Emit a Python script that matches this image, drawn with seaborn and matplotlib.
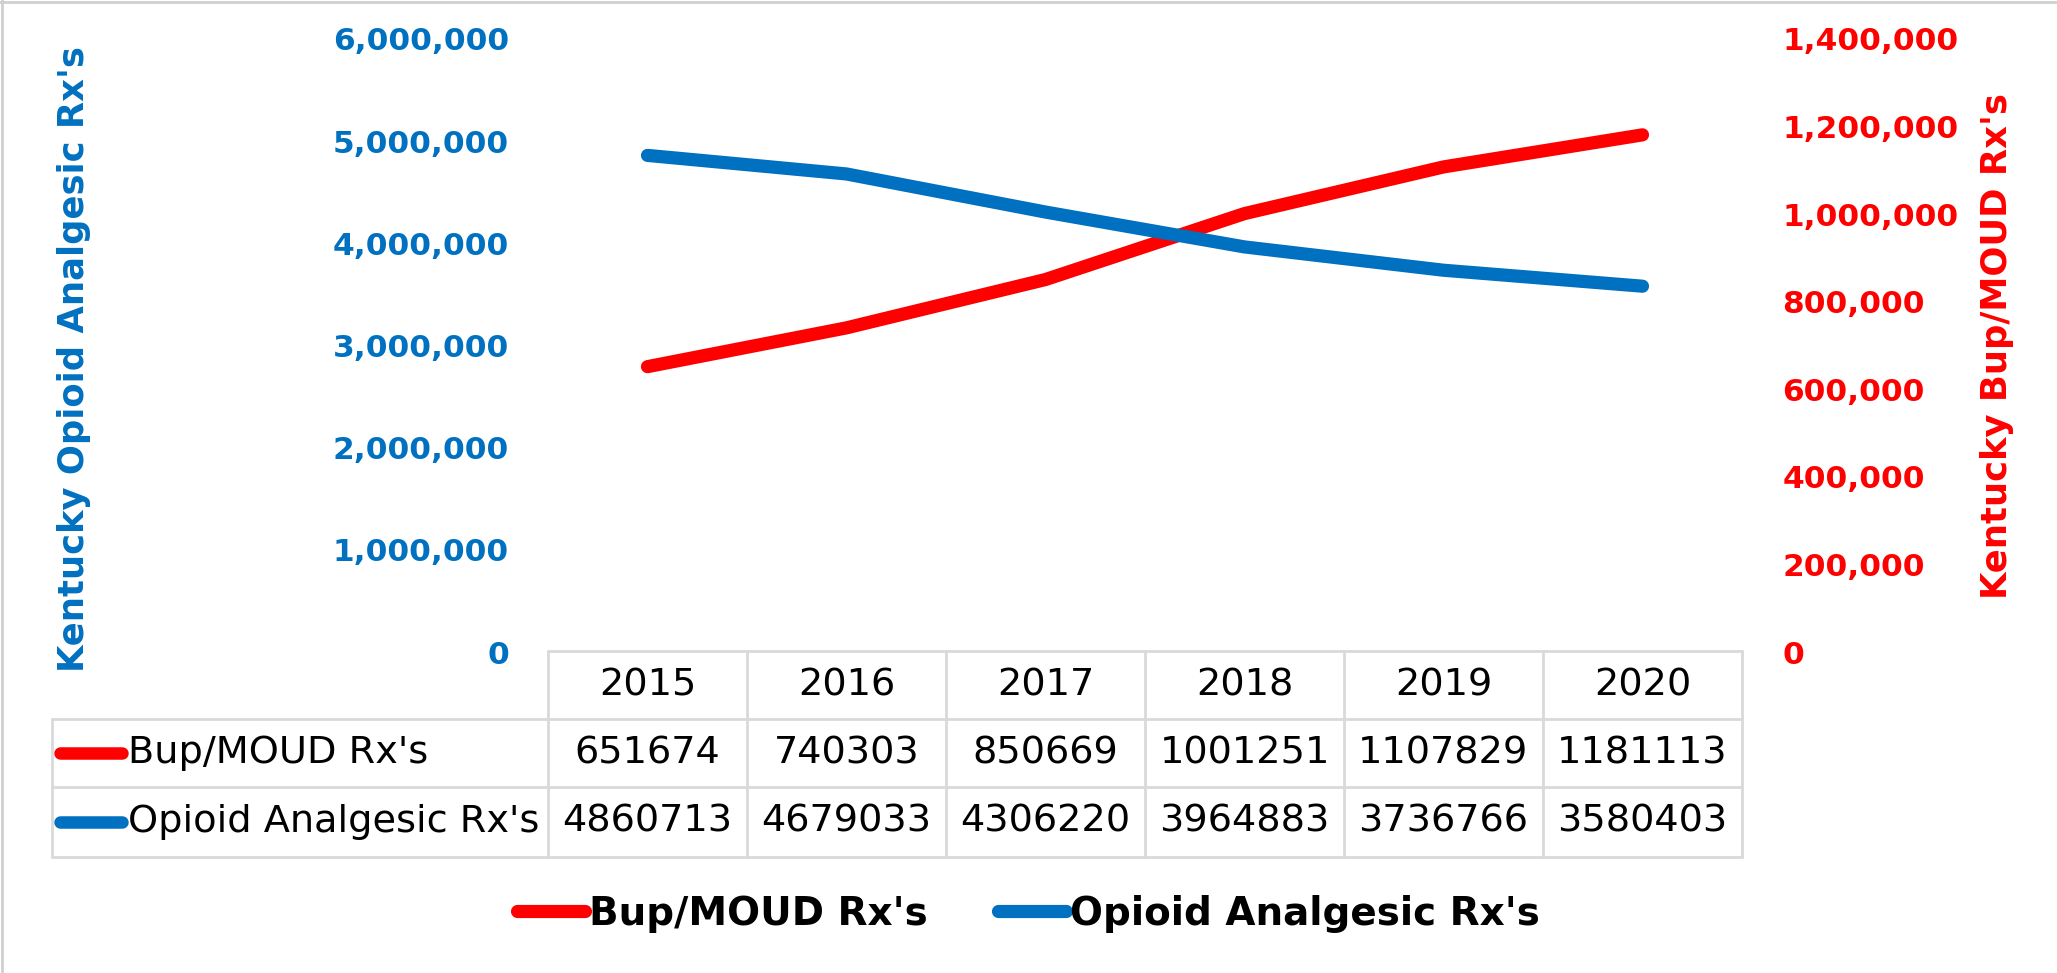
import numpy as np
import pandas as pd
import matplotlib
matplotlib.use("Agg")
import matplotlib.pyplot as plt
import matplotlib.transforms as mtransforms
from matplotlib.lines import Line2D
import seaborn as sns

# ---------------- data ----------------
years = ["2015", "2016", "2017", "2018", "2019", "2020"]
bup = [651674, 740303, 850669, 1001251, 1107829, 1181113]
opioid = [4860713, 4679033, 4306220, 3964883, 3736766, 3580403]
bup_label = "Bup/MOUD Rx's"
opioid_label = "Opioid Analgesic Rx's"
left_ylabel = "Kentucky Opioid Analgesic Rx's"
right_ylabel = "Kentucky Bup/MOUD Rx's"
left_ticks = [0, 1000000, 2000000, 3000000, 4000000, 5000000, 6000000]
right_ticks = [0, 200000, 400000, 600000, 800000, 1000000, 1200000, 1400000]

BLUE = "#0070C0"
RED = "#FF0000"
GRID = "#D9D9D9"

sns.set_style("white")
plt.rcParams["font.family"] = ["DejaVu Sans"]
plt.rcParams["text.color"] = "black"

W, H = 2057, 973
fig = plt.figure(figsize=(W / 100, H / 100), dpi=100)
fig.patch.set_facecolor("white")


def fx(px):
    return px / W


def fy(py):
    return 1 - py / H


ax = fig.add_axes([fx(548), fy(652), fx(1742) - fx(548), fy(39) - fy(652)])
ax2 = ax.twinx()

df = pd.DataFrame({"x": np.arange(len(years)), "bup": bup, "opioid": opioid})
sns.lineplot(data=df, x="x", y="bup", ax=ax2, color=RED, lw=9.5,
             solid_capstyle="round", solid_joinstyle="round")
sns.lineplot(data=df, x="x", y="opioid", ax=ax, color=BLUE, lw=9.5,
             solid_capstyle="round", solid_joinstyle="round")
ax.set_zorder(ax2.get_zorder() + 1)
ax.patch.set_visible(False)

for a in (ax, ax2):
    a.set_xlim(-0.5, len(years) - 0.5)
    a.set_xticks([])
    a.set_xlabel("")
    a.set_ylabel("")
    for s in a.spines.values():
        s.set_visible(False)

ax.set_ylim(left_ticks[0], left_ticks[-1])
ax2.set_ylim(right_ticks[0], right_ticks[-1])
ax.set_yticks(left_ticks, labels=[f"{v:,}" for v in left_ticks],
              fontweight="bold", color=BLUE, fontsize=22.5)
ax2.set_yticks(right_ticks, labels=[f"{v:,}" for v in right_ticks],
               fontweight="bold", color=RED, fontsize=22.5)
ax.tick_params(axis="y", length=0, pad=28)
ax2.tick_params(axis="y", length=0, pad=29)

# axis titles
fig.text(fx(74), fy(359), left_ylabel, rotation=90, ha="center", va="center",
         color=BLUE, fontsize=25.5, fontweight="bold")
fig.text(fx(1997), fy(346), right_ylabel, rotation=90, ha="center", va="center",
         color=RED, fontsize=25.5, fontweight="bold")

# ---------------- data table ----------------
blend = mtransforms.blended_transform_factory(ax.transData, fig.transFigure)
rows_px = [651, 719, 787, 857]
x_left = fx(52)
x_ax_left = ax.get_position().x0
x_ax_right = ax.get_position().x1
n = len(years)

fig.add_artist(Line2D([x_ax_left, x_ax_right], [fy(rows_px[0])] * 2,
                      color=GRID, lw=2, transform=fig.transFigure))
for r in rows_px[1:]:
    fig.add_artist(Line2D([x_left, x_ax_right], [fy(r)] * 2,
                          color=GRID, lw=2, transform=fig.transFigure))
for i in range(n + 1):
    fig.add_artist(Line2D([i - 0.5, i - 0.5], [fy(rows_px[0]), fy(rows_px[-1])],
                          color=GRID, lw=2, transform=blend))
fig.add_artist(Line2D([x_left, x_left], [fy(rows_px[1]), fy(rows_px[-1])],
                      color=GRID, lw=2, transform=fig.transFigure))

TFS = 27.5
yc = [(rows_px[k] + rows_px[k + 1]) / 2 for k in range(3)]
for i, yr in enumerate(years):
    fig.text(i, fy(yc[0]), yr, transform=blend, ha="center", va="center",
             fontsize=TFS, color="black")
    fig.text(i, fy(yc[1]), str(bup[i]), transform=blend, ha="center",
             va="center", fontsize=TFS, color="black")
    fig.text(i, fy(yc[2]), str(opioid[i]), transform=blend, ha="center",
             va="center", fontsize=TFS, color="black")

for row_y, lab, col in [(yc[1], bup_label, RED), (yc[2], opioid_label, BLUE)]:
    fig.add_artist(Line2D([fx(60), fx(122)], [fy(row_y)] * 2, color=col, lw=9,
                          solid_capstyle="round", transform=fig.transFigure))
    fig.text(fx(128), fy(row_y), lab, ha="left", va="center", fontsize=TFS,
             color="black")

# ---------------- legend ----------------
handles = [Line2D([], [], color=RED, lw=9.5, solid_capstyle="round"),
           Line2D([], [], color=BLUE, lw=9.5, solid_capstyle="round")]
leg = fig.legend(handles, [bup_label, opioid_label], loc="center",
                 bbox_to_anchor=(0.5, fy(914)), ncol=2, frameon=False,
                 prop={"weight": "bold", "size": 28}, handlelength=1.75,
                 handletextpad=0.1, columnspacing=1.8)
for t in leg.get_texts():
    t.set_color("black")

# frame edges of the screenshot
fig.add_artist(Line2D([fx(1.5)] * 2, [0, 1], color="#D0D0D0", lw=2,
                      transform=fig.transFigure))
fig.add_artist(Line2D([0, 1], [fy(1.5)] * 2, color="#D0D0D0", lw=2,
                      transform=fig.transFigure))

fig.savefig("out.png", dpi=100)
